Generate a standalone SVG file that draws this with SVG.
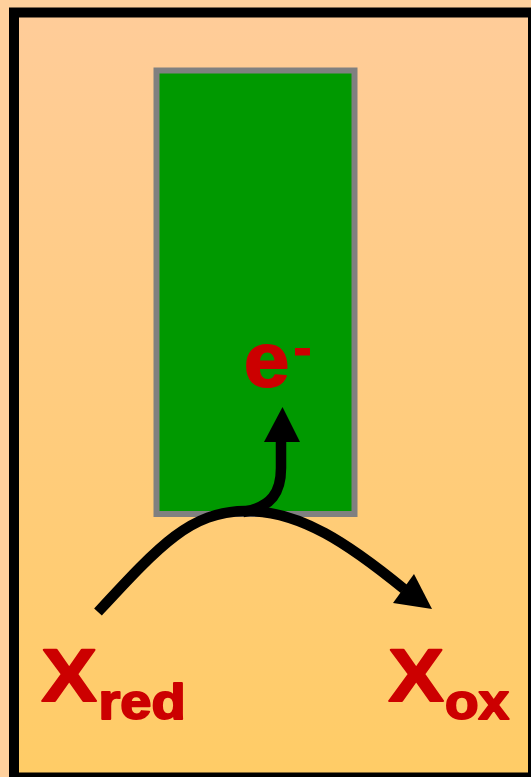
<svg xmlns="http://www.w3.org/2000/svg" width="531" height="777" viewBox="0 0 531 777">
<style>
.lbl{font-family:"Liberation Sans",Arial,sans-serif;font-weight:bold;fill:#CC0000;stroke:#CC0000;stroke-width:2;stroke-linejoin:round}
.conn{fill:none;stroke:#000;stroke-width:10.5}
</style>
<defs>
<linearGradient id="bg" x1="0" y1="0" x2="0" y2="1">
<stop offset="0" stop-color="#FFCC99"/>
<stop offset="1" stop-color="#FFCC66"/>
</linearGradient>
</defs>
<rect x="0" y="0" width="531" height="777" fill="#FFD09C"/>
<g id="cell">
<rect x="14" y="12.5" width="519" height="765" fill="url(#bg)" stroke="#000" stroke-width="10"/>
</g>
<g id="electrode">
<rect x="156.5" y="70.5" width="198" height="443.5" fill="#009900" stroke="#808080" stroke-width="6"/>
</g>
<g id="electron">
<text class="lbl" font-size="76" transform="translate(244,386) scale(1.07,1)">e</text>
<rect x="295" y="348" width="15" height="7.5" fill="#CC0000"/>
</g>
<g id="xred">
<text class="lbl" font-size="74" transform="translate(41.5,700.5) scale(1.12,1)">X</text>
<text class="lbl" font-size="50" transform="translate(98.5,718.5) scale(1.12,1)">red</text>
</g>
<g id="xox">
<text class="lbl" font-size="74" transform="translate(388.5,700.5) scale(1.12,1)">X</text>
<text class="lbl" font-size="50" transform="translate(445,718.5) scale(1.1,1)">ox</text>
</g>
<g id="connectors">
<path class="conn" d="M98,612 C160,545 190,512 245,511 C300,510 350,545 404,589"/>
<polygon points="432,609 393,603 414,574" fill="#000"/>
<path class="conn" d="M243,512 C272,507 281,492 281,468 L281,440"/>
<polygon points="282.5,407 264,442 300,442" fill="#000"/>
</g>
</svg>
